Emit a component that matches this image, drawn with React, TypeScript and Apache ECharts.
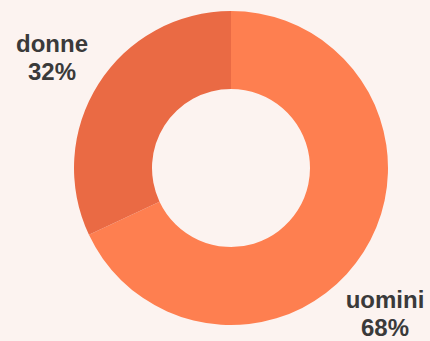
import React, { useEffect, useRef } from "react";
import * as echarts from "echarts";

const categories = ["uomini", "donne"];
const values = [68, 32];
const colors = ["#fe7f50", "#ea6a44"];

export default function App() {
  const ref = useRef<HTMLDivElement>(null);
  useEffect(() => {
    document.body.style.margin = "0";
    const chart = echarts.init(ref.current!, null, { renderer: "svg" });
    chart.setOption({
      animation: false,
      backgroundColor: "#fcf3f0",
      series: [
        {
          type: "pie",
          center: [231, 168],
          radius: [79, 157],
          startAngle: 90,
          clockwise: true,
          data: categories.map((c, i) => ({
            name: c,
            value: values[i],
            itemStyle: { color: colors[i] },
          })),
          label: {
            show: true,
            position: "inside",
            formatter: "{b}\n{d}%",
            fontFamily: "Liberation Sans, Arial, sans-serif",
            fontWeight: "bold",
            fontSize: 24,
            lineHeight: 28,
            color: "#3a3a3a",
            align: "center",
            overflow: "none",
          },
          labelLine: { show: false },
          labelLayout: (p: any) =>
            p.dataIndex === 0
              ? { x: 385, y: 313, align: "center", verticalAlign: "middle", hideOverlap: false }
              : { x: 52, y: 57, align: "center", verticalAlign: "middle", hideOverlap: false },
          emphasis: { disabled: true },
        },
      ],
    });
    return () => chart.dispose();
  }, []);
  return <div ref={ref} style={{ width: 430, height: 341 }} />;
}
